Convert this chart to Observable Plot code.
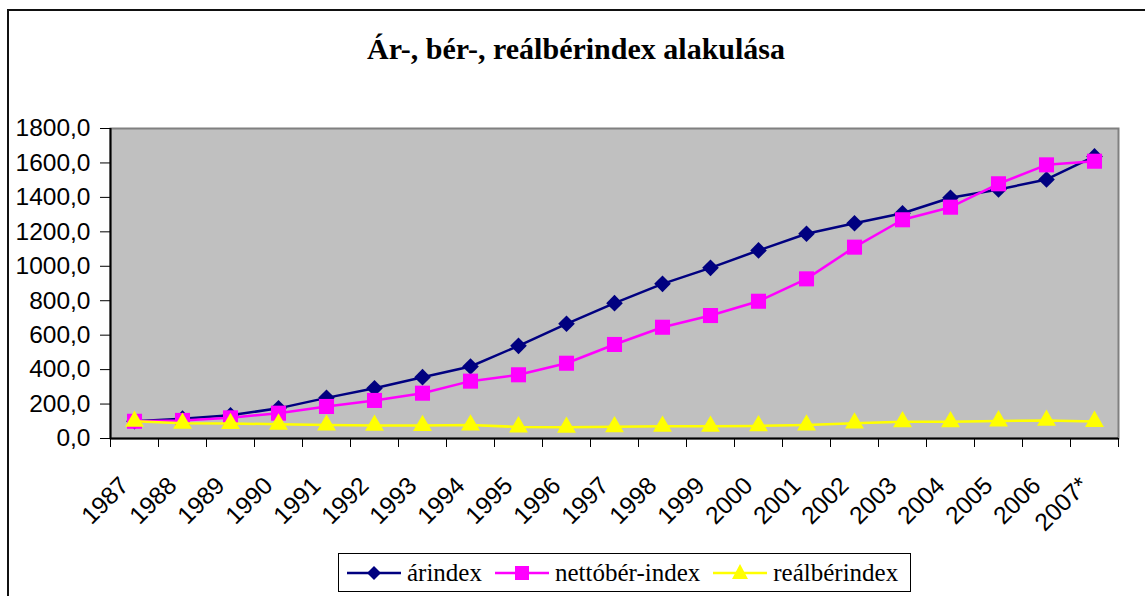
<!DOCTYPE html>
<html><head><meta charset="utf-8">
<script src="https://cdn.jsdelivr.net/npm/d3@7"></script>
<script src="https://cdn.jsdelivr.net/npm/@observablehq/plot@0.6"></script>
<style>
html,body{margin:0;padding:0;background:#fff;overflow:hidden;}
#wrap{position:relative;width:1145px;height:596px;overflow:hidden;background:#fff;}
#border{position:absolute;left:7px;top:9px;width:1200px;height:700px;border:2px solid #111;box-sizing:border-box;}
#title{position:absolute;left:0;width:1152px;top:32px;line-height:1;text-align:center;font:bold 30px "Liberation Serif","Times New Roman",serif;color:#000;}
#chart{position:absolute;left:0;top:80px;}
#legend{position:absolute;left:338px;top:553px;width:573px;height:39px;border:1px solid #000;box-sizing:border-box;display:flex;align-items:center;padding-left:8px;font:25px "Liberation Serif","Times New Roman",serif;color:#000;background:#fff;}
#legend svg{margin-right:6px;display:block;flex-shrink:0;}
#legend .lab{margin-right:13px;white-space:nowrap;flex-shrink:0;}
</style>
</head><body>
<div id="wrap">
  <div id="border"></div>
  <div id="title">Ár-, bér-, reálbérindex alakulása</div>
  <div id="chart"></div>
  <div id="legend"></div>
</div>
<script>
const years = ["1987","1988","1989","1990","1991","1992","1993","1994","1995","1996","1997","1998","1999","2000","2001","2002","2003","2004","2005","2006","2007*"];
const arindex = [100,115,135,175,236,292,356,418,538,666,786,898,991,1092,1189,1250,1308,1398,1446,1504,1638];
const berindex = [100,105,120,147,186,221,263,333,370,437,546,646,714,797,927,1111,1270,1343,1479,1589,1610];
const realber = [100,88,87,83,78,76,75,78,67,65,68,71,71,73,78,89,97,97,102,105,99];
const yTicks = [0,200,400,600,800,1000,1200,1400,1600,1800];
const seriesNames = ["árindex","nettóbér-index","reálbérindex"];
const seriesColors = ["#000080","#FF00FF","#FFFF00"];

const idx = years.map((_, i) => i);
const rows = idx.map(i => ({i, ar: arindex[i], ber: berindex[i], real: realber[i]}));
const bounds = d3.range(years.length + 1).map(k => k - 0.5);
const fmt = d => d.toFixed(1).replace(".", ",");

const chart = Plot.plot({
  width: 1145, height: 470,
  marginLeft: 110, marginRight: 27, marginTop: 48, marginBottom: 112,
  x: {type: "linear", domain: [-0.5, years.length - 0.5]},
  y: {domain: [0, 1800]},
  style: {fontFamily: "'Liberation Sans', Arial, sans-serif", fontSize: "24.5px", color: "#000", background: "transparent"},
  marks: [
    Plot.frame({fill: "#C0C0C0", stroke: "#808080", strokeWidth: 2}),
    Plot.axisY({ticks: yTicks, tickFormat: fmt, tickSize: 10, tickPadding: 10, label: null, fontSize: 24.5}),
    Plot.axisX({ticks: bounds, tickFormat: () => "", tickSize: 9, label: null}),
    Plot.text(idx, {x: d => d, frameAnchor: "bottom", text: i => years[i], rotate: -45, textAnchor: "end", lineAnchor: "middle", dx: -10, dy: 43, fontSize: 24.5}),
    Plot.ruleY([0], {stroke: "#000", strokeWidth: 2}),
    Plot.ruleX([-0.5], {stroke: "#000", strokeWidth: 2}),
    Plot.line(rows, {x: "i", y: "ar", stroke: seriesColors[0], strokeWidth: 2.5}),
    Plot.dot(rows, {x: "i", y: "ar", symbol: "diamond2", r: 7.5, fill: seriesColors[0]}),
    Plot.line(rows, {x: "i", y: "ber", stroke: seriesColors[1], strokeWidth: 2.5}),
    Plot.dot(rows, {x: "i", y: "ber", symbol: "square", r: 8.5, fill: seriesColors[1]}),
    Plot.line(rows, {x: "i", y: "real", stroke: seriesColors[2], strokeWidth: 2.5}),
    Plot.dot(rows, {x: "i", y: "real", symbol: "triangle", r: 7, fill: seriesColors[2]})
  ]
});
document.getElementById("chart").appendChild(chart);

// legend
const shapes = [
  '<path d="M27,3 L34,10 L27,17 L20,10Z" fill="COL"/>',
  '<rect x="20" y="3" width="14" height="14" fill="COL"/>',
  '<path d="M27,1 L35,16 L19,16Z" fill="COL"/>'
];
const leg = document.getElementById("legend");
seriesNames.forEach((n, k) => {
  const c = seriesColors[k];
  leg.insertAdjacentHTML("beforeend",
    `<svg width="54" height="20"><line x1="0" y1="10" x2="54" y2="10" stroke="${c}" stroke-width="2.5"/>${shapes[k].replace("COL", c)}</svg><span class="lab">${n}</span>`);
});
</script>
</body></html>
